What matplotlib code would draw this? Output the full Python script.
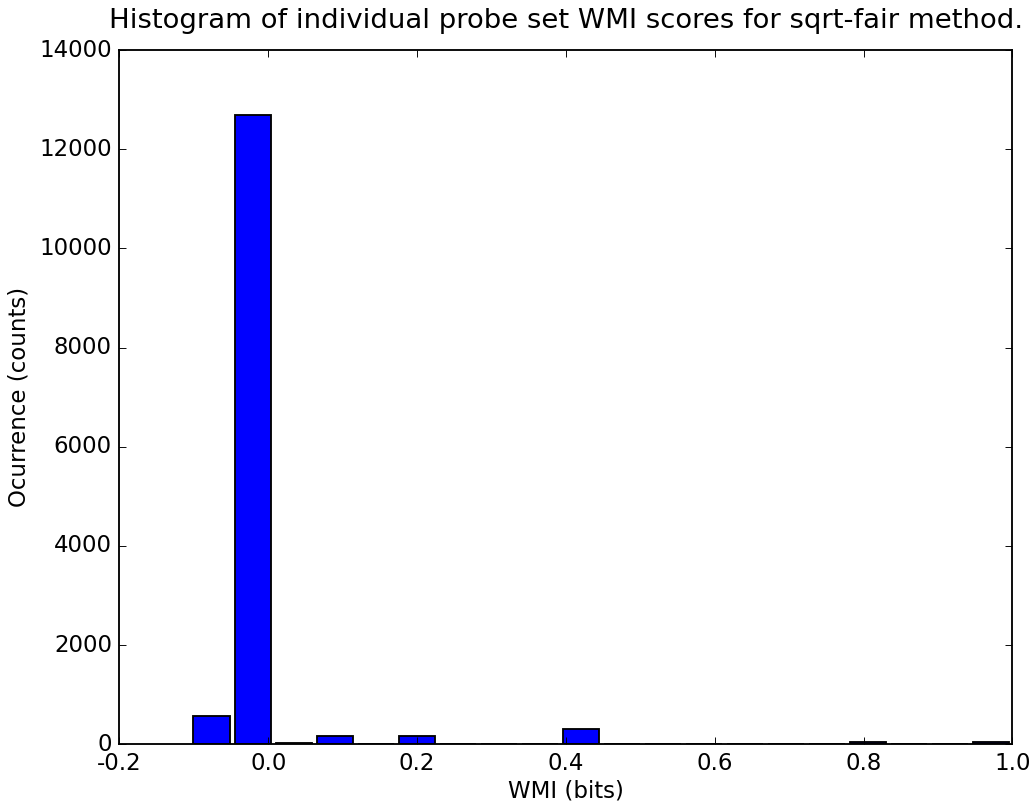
import numpy as np
import matplotlib
matplotlib.use("Agg")
import matplotlib.pyplot as plt

# WMI histogram: 20 bins between the min and max score
bin_edges = np.linspace(-0.1037, 0.9987, 21)
counts = [564, 12680, 20, 161, 0, 161, 0, 0, 0, 315,
          0, 0, 0, 0, 0, 0, 40, 0, 0, 40]

xticks = [-0.2, 0.0, 0.2, 0.4, 0.6, 0.8, 1.0]
yticks = [0, 2000, 4000, 6000, 8000, 10000, 12000, 14000]

plt.style.use("classic")
plt.rcParams["font.family"] = "DejaVu Sans"
plt.rcParams["font.size"] = 12.35

fig = plt.figure(figsize=(7.77, 6.0225), dpi=133.34, facecolor="white")
ax = fig.add_axes([0.1152, 0.0731, 0.862, 0.8646])

centers = (bin_edges[:-1] + bin_edges[1:]) / 2
ax.hist(centers, bins=bin_edges, weights=counts, rwidth=0.88,
        color="#0000ff", edgecolor="black", linewidth=1.0)

ax.set_xlim(-0.2, 1.0)
ax.set_ylim(0, 14000)
ax.set_xticks(xticks)
ax.set_xticklabels(["-0.2", "0.0", "0.2", "0.4", "0.6", "0.8", "1.0"])
ax.set_yticks(yticks)
ax.set_xlabel("WMI (bits)", labelpad=2.5)
ax.set_ylabel("Ocurrence (counts)")
ax.set_title("Histogram of individual probe set WMI scores for sqrt-fair method.",
             fontsize=14.85, pad=12)

fig.savefig("out.png", dpi=133.34, facecolor="white")
